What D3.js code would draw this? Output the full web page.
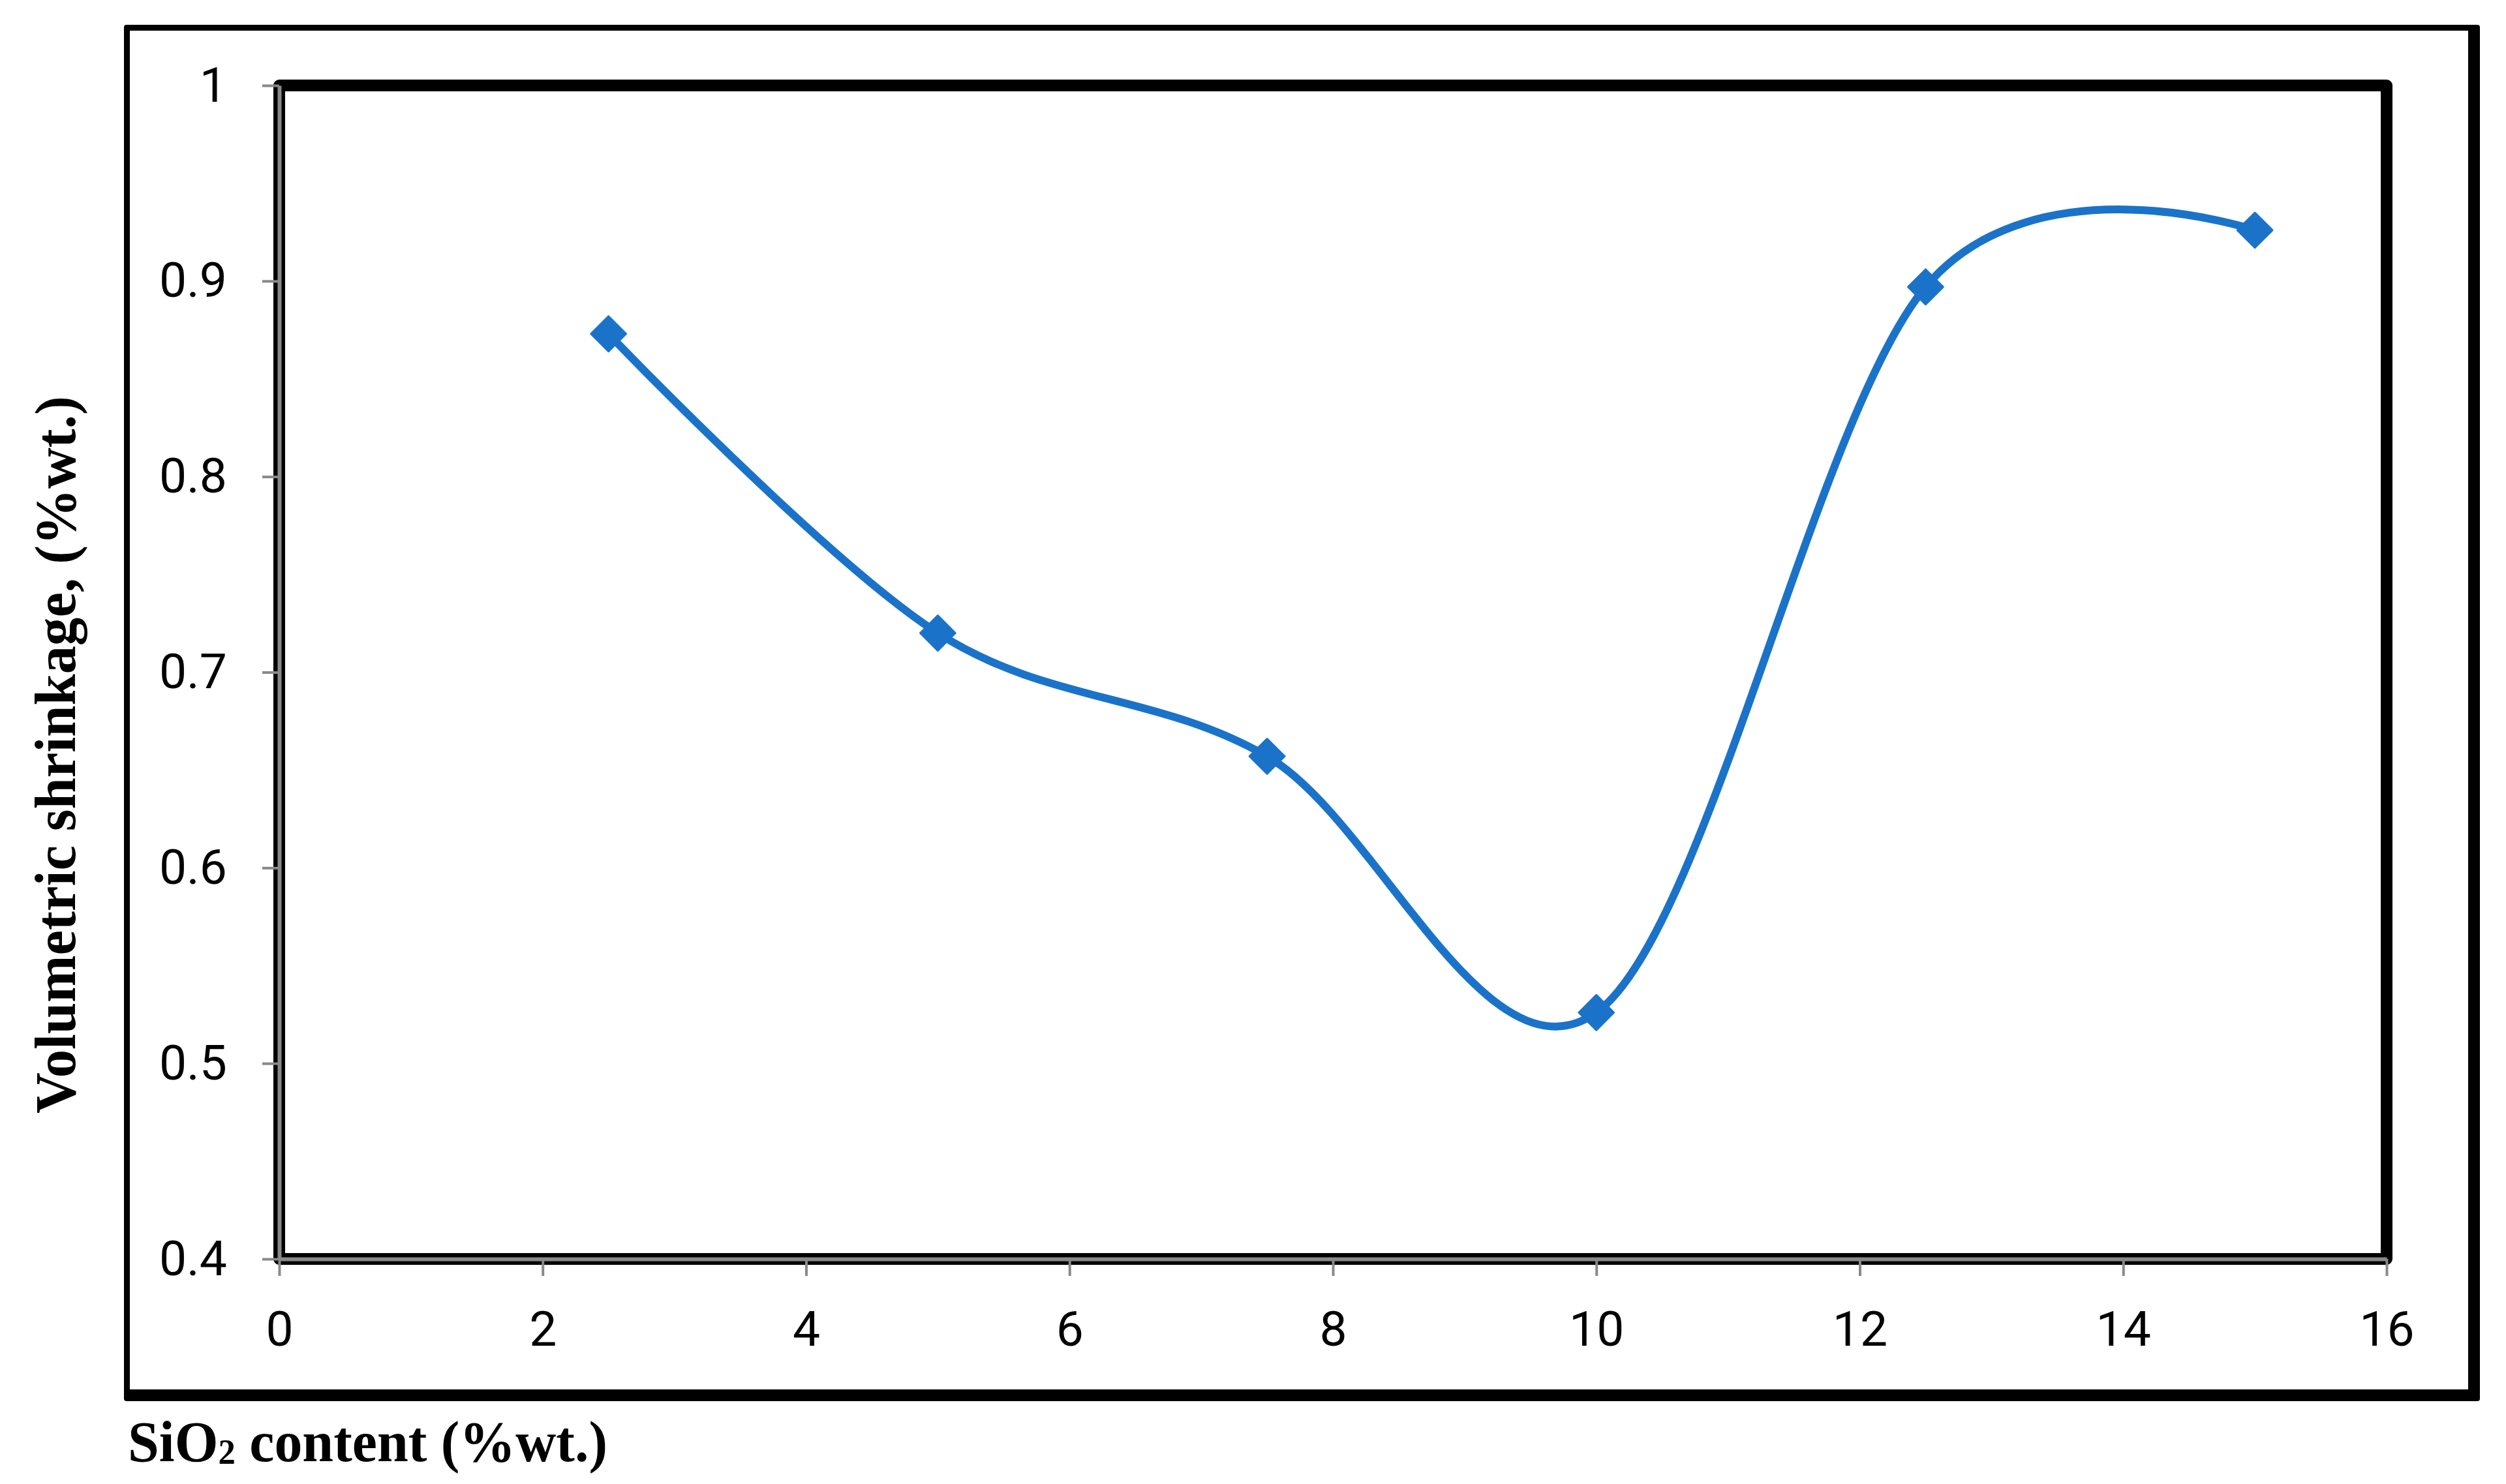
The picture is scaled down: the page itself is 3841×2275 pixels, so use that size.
<!DOCTYPE html>
<html>
<head>
<meta charset="utf-8">
<script src="https://cdn.jsdelivr.net/npm/d3@7"></script>
<style>
  html, body { margin: 0; padding: 0; background: #fff; }
  svg { display: block; }
</style>
</head>
<body>
<svg width="3841" height="2275"></svg>
<script>
// data
const silica = [2.5, 5, 7.5, 10, 12.5, 15];
const shrinkage = [0.873, 0.720, 0.657, 0.526, 0.897, 0.926];
const xTicks = [0, 2, 4, 6, 8, 10, 12, 14, 16];
const yTicks = [0.4, 0.5, 0.6, 0.7, 0.8, 0.9, 1];

const svg = d3.select("svg");
const width = +svg.attr("width");
const height = +svg.attr("height");

const blue = "#1a73c9";
const grey = "#898989";
const tickFont = "Roboto, 'Liberation Sans', sans-serif";
const titleFont = "'Liberation Serif', 'DejaVu Serif', serif";

// outer frame (thin top/left, heavy bottom/right)
svg.append("rect")
    .attr("x", 190).attr("y", 38)
    .attr("width", 3611).attr("height", 2110)
    .attr("rx", 4)
    .attr("fill", "#000");
svg.append("rect")
    .attr("x", 199).attr("y", 47)
    .attr("width", 3584).attr("height", 2083)
    .attr("fill", "#fff");

const x = d3.scaleLinear().domain([0, 16]).range([428, 3658]);
const y = d3.scaleLinear().domain([0.4, 1]).range([1930, 131]);

// plot area border
svg.append("rect")
    .attr("x", x(0)).attr("y", y(1))
    .attr("width", x(16) - x(0)).attr("height", y(0.4) - y(1))
    .attr("fill", "none")
    .attr("stroke", "#000")
    .attr("stroke-width", 18)
    .attr("stroke-linejoin", "round");

// axes
const xAxis = svg.append("g")
    .attr("transform", `translate(0,${y(0.4)})`)
    .call(d3.axisBottom(x).tickValues(xTicks).tickSize(26).tickSizeOuter(0).tickPadding(54)
        .tickFormat(d3.format("d")));

const yAxis = svg.append("g")
    .attr("transform", `translate(${x(0)},0)`)
    .call(d3.axisLeft(y).tickValues(yTicks).tickSize(26).tickSizeOuter(0).tickPadding(54)
        .tickFormat(d => d === 1 ? "1" : d.toFixed(1)));

[xAxis, yAxis].forEach(g => {
    g.select(".domain").attr("stroke", grey).attr("stroke-width", 6);
    g.selectAll(".tick line").attr("stroke", grey).attr("stroke-width", 4);
    g.selectAll(".tick text")
        .attr("fill", "#000")
        .style("font-family", tickFont)
        .style("font-size", "75px");
});

// smoothed series
const line = d3.line()
    .x((d, i) => x(silica[i]))
    .y(d => y(d))
    .curve(d3.curveCardinal.tension(0));

svg.append("path")
    .datum(shrinkage)
    .attr("d", line)
    .attr("fill", "none")
    .attr("stroke", blue)
    .attr("stroke-width", 12)
    .attr("stroke-linecap", "round");

svg.append("g")
    .selectAll("path")
    .data(shrinkage)
    .enter().append("path")
    .attr("d", d3.symbol().type(d3.symbolSquare).size(1444))
    .attr("transform", (d, i) => `translate(${x(silica[i])},${y(d)}) rotate(45)`)
    .attr("fill", blue)
    .attr("stroke", blue)
    .attr("stroke-width", 3)
    .attr("stroke-linejoin", "round");

// titles
svg.append("text")
    .attr("transform", "translate(115,1157) rotate(-90)")
    .attr("text-anchor", "middle")
    .attr("textLength", 1100)
    .attr("lengthAdjust", "spacingAndGlyphs")
    .style("font-family", titleFont)
    .style("font-weight", "bold")
    .style("font-size", "88px")
    .text("Volumetric shrinkage, (%wt.)");

const xt = svg.append("text")
    .attr("x", 196).attr("y", 2240)
    .attr("textLength", 735)
    .attr("lengthAdjust", "spacingAndGlyphs")
    .style("font-family", titleFont)
    .style("font-weight", "bold")
    .style("font-size", "88px");
xt.append("tspan").text("SiO");
xt.append("tspan").attr("dy", 4).style("font-size", "54px").text("2");
xt.append("tspan").attr("dy", -4).text(" content (%wt.)");
</script>
</body>
</html>
